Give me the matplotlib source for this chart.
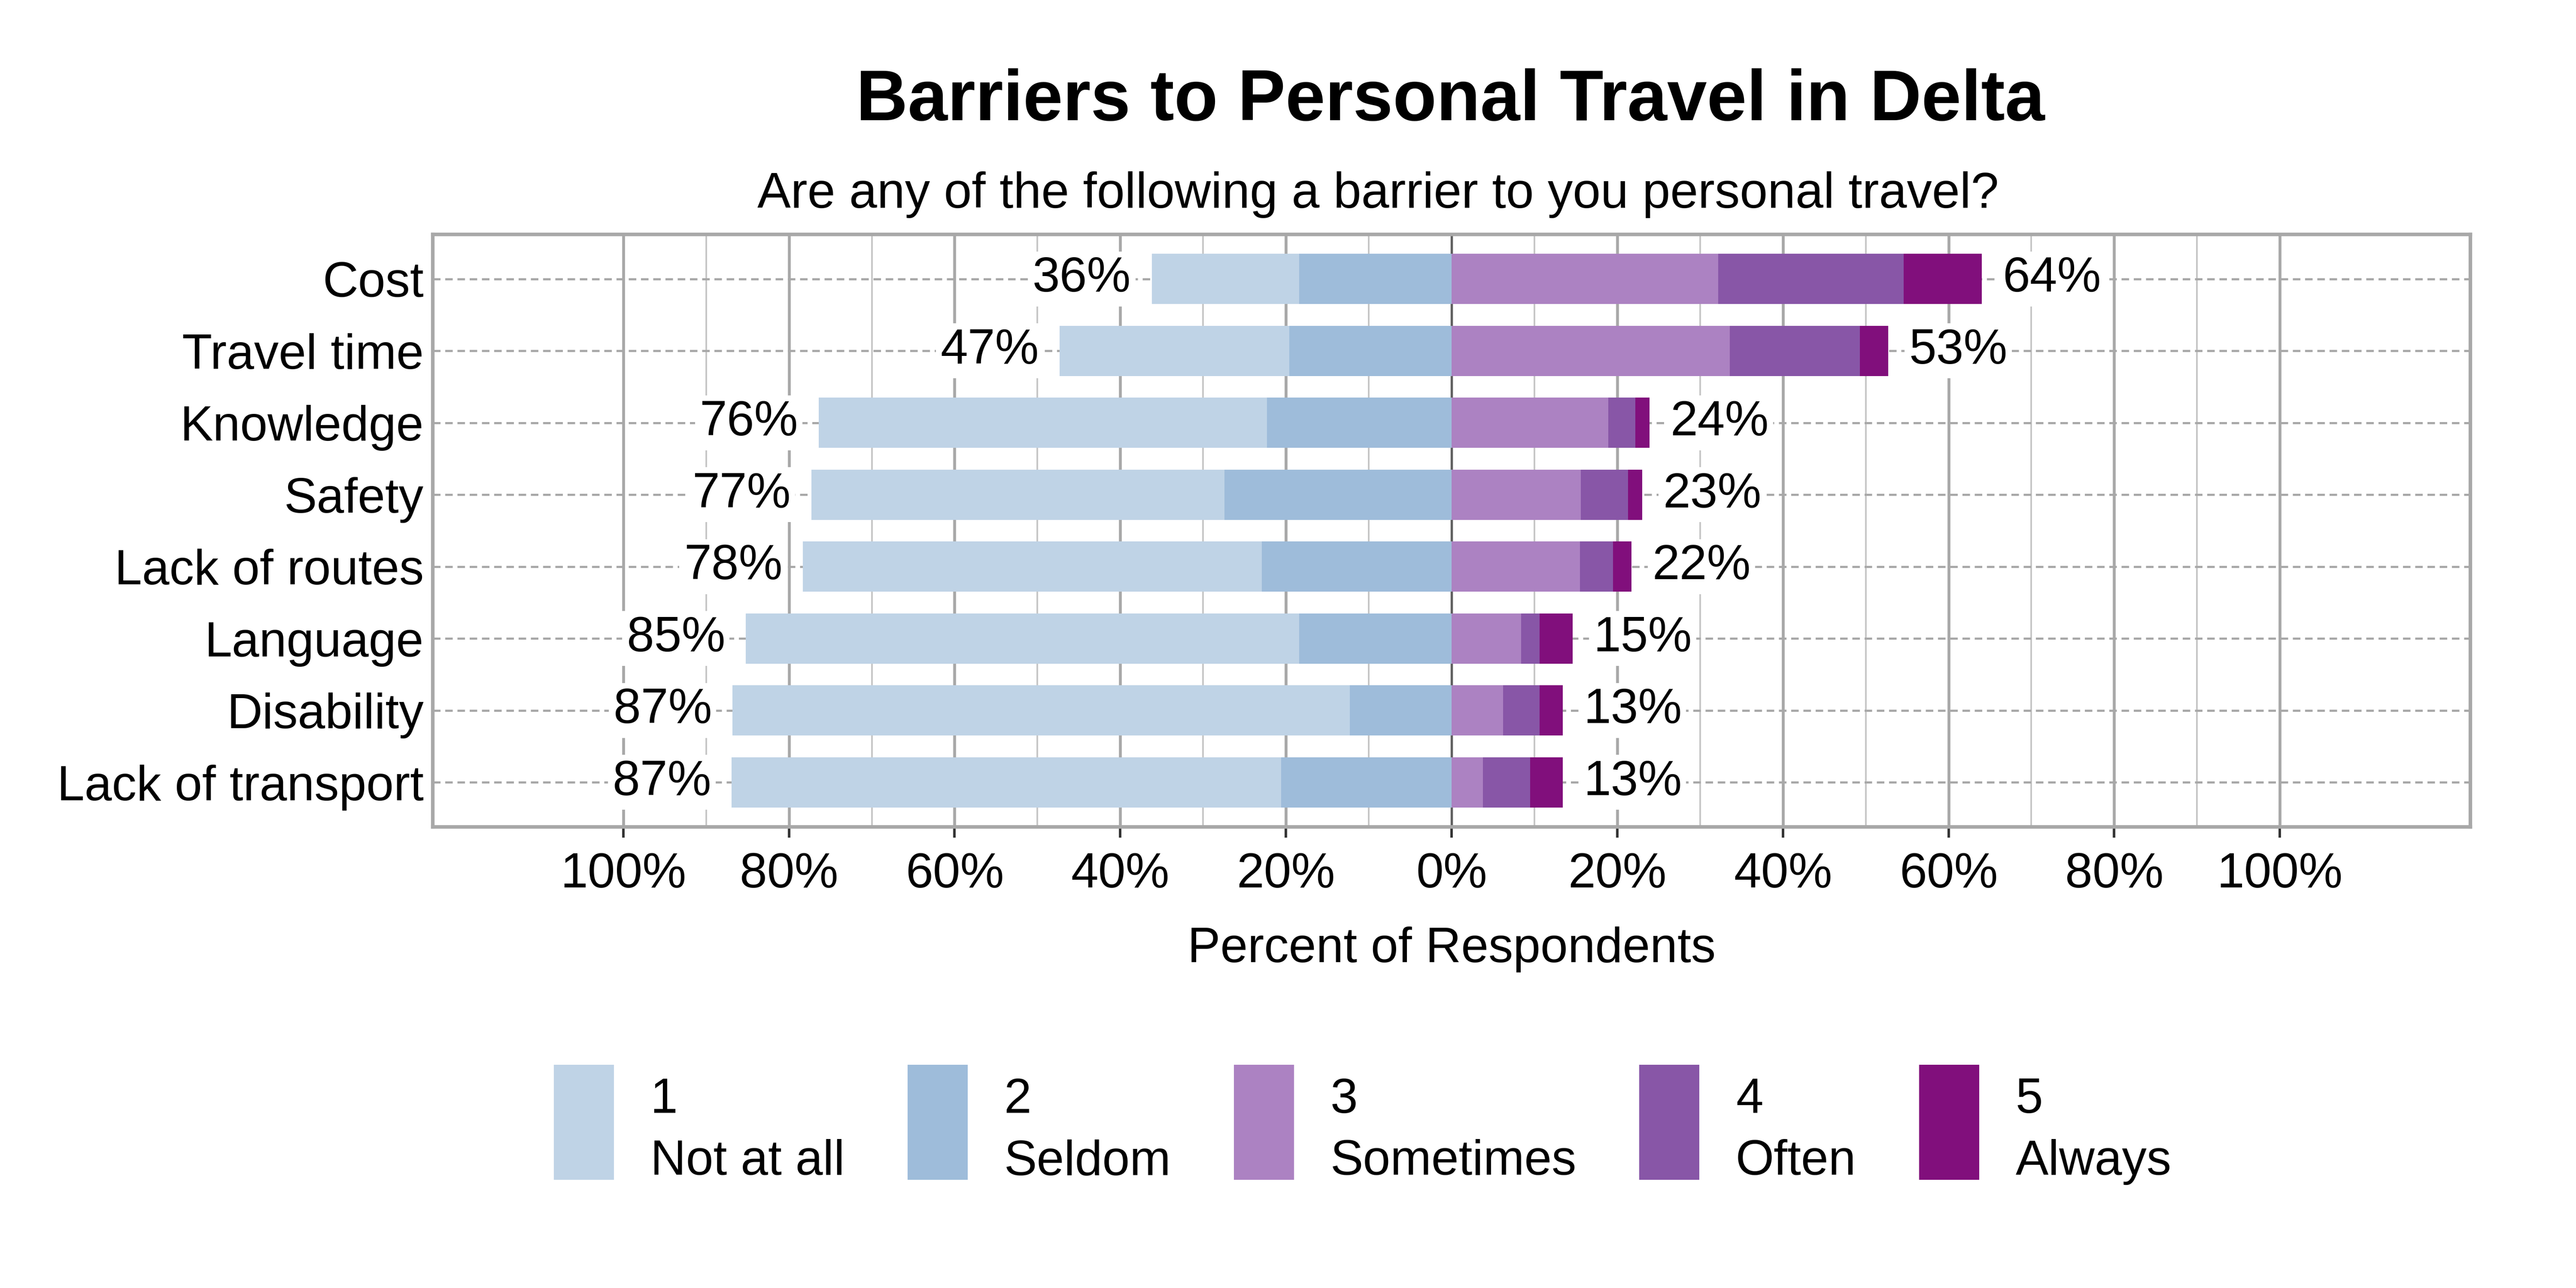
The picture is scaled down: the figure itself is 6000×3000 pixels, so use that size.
import matplotlib
matplotlib.use("Agg")
import matplotlib.pyplot as plt
from matplotlib.patches import Rectangle
from matplotlib.container import BarContainer
from matplotlib.legend_handler import HandlerPatch, update_from_first_child
import numpy as np

plt.rcParams['font.family'] = ['Liberation Sans', 'DejaVu Sans']

categories = ["Cost", "Travel time", "Knowledge", "Safety", "Lack of routes",
              "Language", "Disability", "Lack of transport"]
not_at_all = [17.8, 27.7, 54.1, 49.9, 55.4, 66.8, 74.5, 66.3]
seldom = [18.4, 19.6, 22.3, 27.4, 22.9, 18.4, 12.3, 20.6]
sometimes = [32.2, 33.6, 18.9, 15.6, 15.5, 8.4, 6.2, 3.8]
often = [22.4, 15.7, 3.3, 5.7, 4.0, 2.2, 4.4, 5.7]
always = [9.4, 3.4, 1.7, 1.7, 2.2, 4.0, 2.8, 3.9]

levels = ["1\nNot at all", "2\nSeldom", "3\nSometimes", "4\nOften", "5\nAlways"]
colors = ["#BFD3E6", "#9EBCDA", "#AC82C2", "#8856A7", "#810F7C"]

FS = 27.5


def raised_patch(legend, orig_handle, xdescent, ydescent, width, height, fontsize):
	# lift legend keys a bit so the two-line label sits lower, like the original
	return Rectangle((-xdescent, -ydescent + 7.0), width, height)


def main():
	fig = plt.figure(figsize=(20, 10), dpi=300)
	ax = fig.add_axes([0.168, 0.358, 0.791, 0.460])

	y = np.arange(len(categories))[::-1]
	n = np.array(not_at_all) / 100
	s = np.array(seldom) / 100
	so = np.array(sometimes) / 100
	of = np.array(often) / 100
	al = np.array(always) / 100

	h = 0.7
	# negative side
	ax.barh(y, -s, height=h, color=colors[1], label=levels[1], zorder=3)
	ax.barh(y, -n, left=-s, height=h, color=colors[0], label=levels[0], zorder=3)
	# positive side
	ax.barh(y, so, height=h, color=colors[2], label=levels[2], zorder=3)
	ax.barh(y, of, left=so, height=h, color=colors[3], label=levels[3], zorder=3)
	ax.barh(y, al, left=so + of, height=h, color=colors[4], label=levels[4], zorder=3)

	left_tot = n + s
	right_tot = so + of + al
	for yi, lt, rt in zip(y, left_tot, right_tot):
		ax.text(-lt - 0.025, yi, f"{round(lt * 100)}%", ha="right", va="center",
			fontsize=FS, zorder=4,
			bbox=dict(facecolor="white", edgecolor="none", pad=2.5))
		ax.text(rt + 0.025, yi, f"{round(rt * 100)}%", ha="left", va="center",
			fontsize=FS, zorder=4,
			bbox=dict(facecolor="white", edgecolor="none", pad=2.5))

	ax.set_xlim(-1.23, 1.23)
	ax.set_ylim(-0.62, len(categories) - 1 + 0.62)

	major = np.arange(-1.0, 1.01, 0.2)
	minor = np.arange(-0.9, 0.91, 0.2)
	ax.set_xticks(major)
	ax.set_xticklabels([f"{abs(round(v * 100))}%" for v in major], fontsize=FS)
	ax.set_xticks(minor, minor=True)
	ax.set_yticks(y)
	ax.set_yticklabels(categories, fontsize=FS)

	for v in major:
		if abs(v) < 1e-9:
			continue
		ax.axvline(v, color="#A8A8A8", lw=1.6, zorder=1)
	for v in minor:
		ax.axvline(v, color="#C4C4C4", lw=0.9, zorder=1)
	for yi in y:
		ax.axhline(yi, color="#A8A8A8", lw=1.2, ls=(0, (3.5, 2.2)), zorder=1)
	ax.axvline(0, color="#606060", lw=1.3, zorder=2)

	ax.tick_params(axis="x", which="major", length=6, width=1.4, color="#333333", pad=8)
	ax.tick_params(axis="x", which="minor", length=0)
	ax.tick_params(axis="y", length=0, pad=5)

	for sp in ax.spines.values():
		sp.set_color("#A8A8A8")
		sp.set_linewidth(2)

	ax.set_xlabel("Percent of Respondents", fontsize=FS, labelpad=16)

	fig.text(0.563, 0.921, "Barriers to Personal Travel in Delta", ha="center",
		va="center", fontsize=40, fontweight="bold")
	fig.text(0.535, 0.849, "Are any of the following a barrier to you personal travel?",
		ha="center", va="center", fontsize=28)

	handles, labels = ax.get_legend_handles_labels()
	order = [1, 0, 2, 3, 4]
	hm = {BarContainer: HandlerPatch(patch_func=raised_patch,
		update_func=update_from_first_child)}
	leg = fig.legend([handles[i] for i in order], [labels[i] for i in order],
		ncol=5, loc="center", bbox_to_anchor=(0.529, 0.119), frameon=False,
		fontsize=FS, handlelength=1.22, handleheight=3.22, handletextpad=0.74,
		columnspacing=1.28, handler_map=hm)
	for t in leg.get_texts():
		t.set_linespacing(1.45)

	plt.savefig("out.png", dpi=300)


if __name__ == '__main__':
	main()
